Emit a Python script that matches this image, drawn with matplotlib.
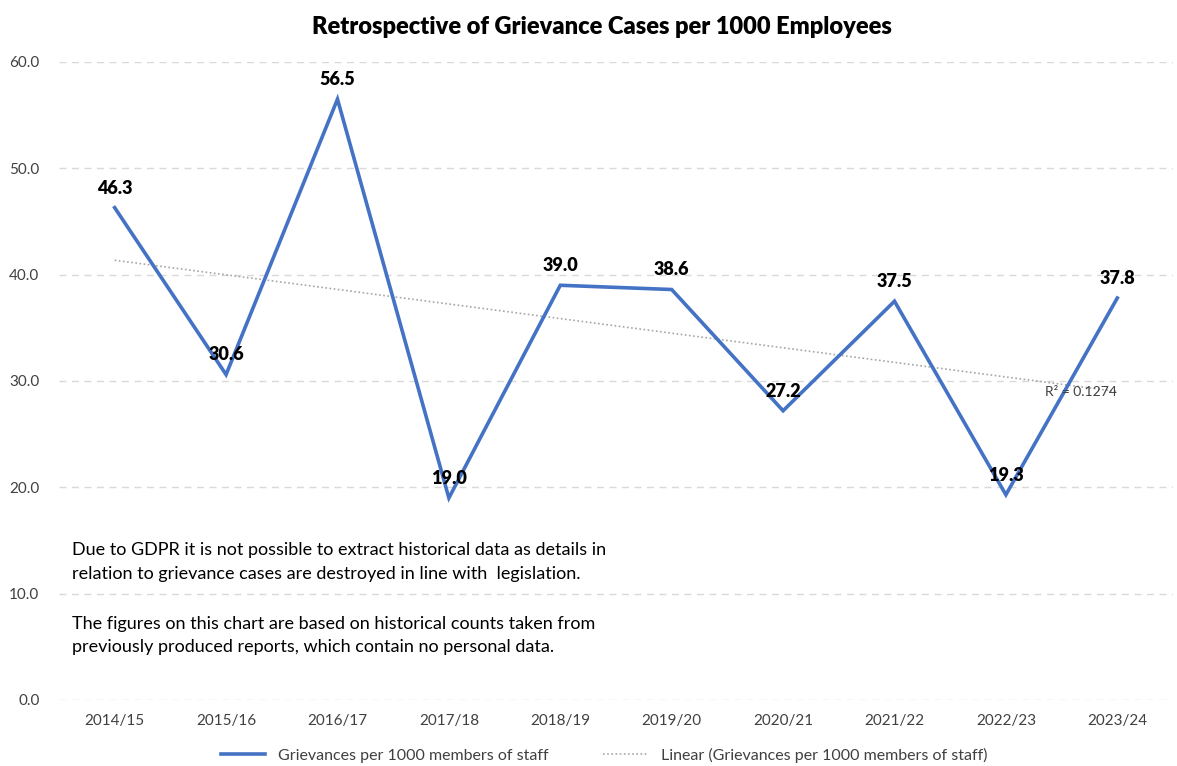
import matplotlib
matplotlib.use("Agg")
import matplotlib.pyplot as plt
import numpy as np

years = ["2014/15", "2015/16", "2016/17", "2017/18", "2018/19",
         "2019/20", "2020/21", "2021/22", "2022/23", "2023/24"]
rates = [46.3, 30.6, 56.5, 19.0, 39.0, 38.6, 27.2, 37.5, 19.3, 37.8]
y_ticks = [0, 10, 20, 30, 40, 50, 60]
r2_label = "R² = 0.1274"

plt.rcParams["font.family"] = ["Lato", "DejaVu Sans"]

fig = plt.figure(figsize=(11.77, 7.66), dpi=100)
ax = fig.add_axes([0.0501, 0.0862, 0.9465, 0.8329])

x = np.arange(len(years))
ax.plot(x, rates, color="#4472C4", lw=2.6, solid_joinstyle="miter",
        label="Grievances per 1000 members of staff", zorder=3)

# linear trendline
slope, icpt = np.polyfit(x, rates, 1)
fit = slope * x + icpt
ax.plot(x, fit, color="#A6A6A6", lw=1.2, ls=(0, (1, 1.5)),
        label="Linear (Grievances per 1000 members of staff)", zorder=2)
ax.text(8.35, 29.0, r2_label, fontsize=10, color="#404040",
        ha="left", va="center", zorder=4)

for xi, v in zip(x, rates):
    ax.annotate(f"{v:.1f}", (xi, v), xytext=(0, 8), textcoords="offset points",
                ha="center", va="bottom", fontsize=13, fontweight="heavy",
                color="black", zorder=5)

ax.set_xlim(-0.5, len(years) - 0.5)
ax.set_ylim(0, 60)
ax.set_yticks(y_ticks)
ax.set_yticklabels([f"{t:.1f}" for t in y_ticks])
ax.set_xticks(x)
ax.set_xticklabels(years)
ax.tick_params(axis="both", length=0, labelsize=11, colors="#404040")
ax.tick_params(axis="x", pad=10)
ax.tick_params(axis="y", pad=14)
ax.yaxis.grid(True, color="#D9D9D9", ls=(0, (5, 4)), lw=1)
ax.set_axisbelow(True)
for s in ax.spines.values():
    s.set_visible(False)

fig.text(0.511, 0.965, "Retrospective of Grievance Cases per 1000 Employees",
         ha="center", va="center", fontsize=17, fontweight="heavy")

ax.text(0.012, 0.2476,
        "Due to GDPR it is not possible to extract historical data as details in\n"
        "relation to grievance cases are destroyed in line with  legislation.",
        transform=ax.transAxes, fontsize=13, va="top", ha="left",
        linespacing=1.58, color="black")
ax.text(0.012, 0.132,
        "The figures on this chart are based on historical counts taken from\n"
        "previously produced reports, which contain no personal data.",
        transform=ax.transAxes, fontsize=13, va="top", ha="left",
        linespacing=1.58, color="black")

leg = fig.legend(loc="center", bbox_to_anchor=(0.513, 0.014), ncol=2, frameon=False,
                 fontsize=11.5, handlelength=2.8, columnspacing=3.4,
                 labelcolor="#404040")

fig.savefig("out.png", dpi=100)
